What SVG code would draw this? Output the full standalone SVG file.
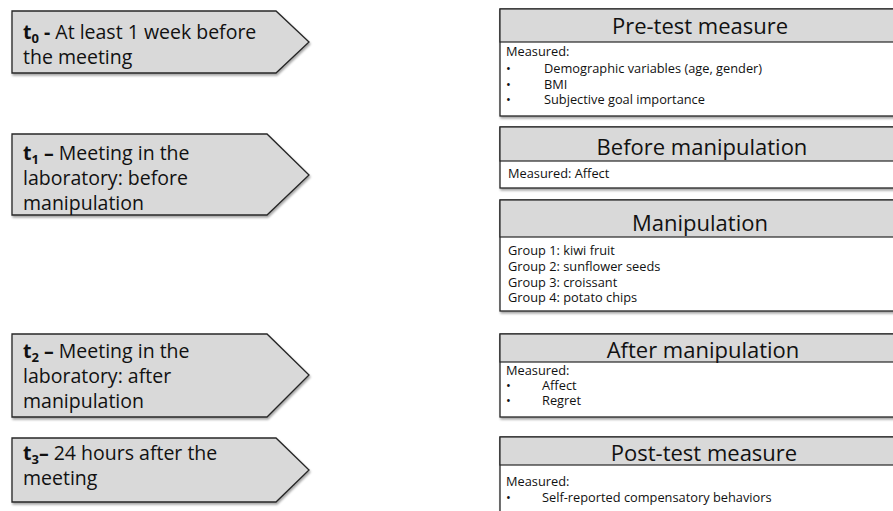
<svg xmlns="http://www.w3.org/2000/svg" width="893" height="511" viewBox="0 0 893 511">
  <style>
    .chev { fill: #d9d9d9; stroke: #262626; stroke-width: 1.3; filter: url(#shadow); }
    .hdr { fill: #d9d9d9; stroke: #262626; stroke-width: 1.2; }
    .body { fill: #ffffff; stroke: #262626; stroke-width: 1.3; filter: url(#shadow); }
    .lt { font-family: "Open Sans", "Liberation Sans", sans-serif; font-size: 19.5px; fill: #111; }
    .lt .b { font-weight: bold; }
    .lt .sub { font-weight: bold; font-size: 13px; }
    .ttl { font-family: "Open Sans", "Liberation Sans", sans-serif; font-size: 22px; fill: #111; text-anchor: middle; }
    .bt { font-family: "Open Sans", "Liberation Sans", sans-serif; font-size: 12.8px; fill: #111; }
  </style>
  <defs>
    <filter id="shadow" x="-5%" y="-10%" width="115%" height="130%">
      <feDropShadow dx="1" dy="2" stdDeviation="1" flood-color="#000" flood-opacity="0.35"/>
    </filter>
  </defs>
  <rect width="893" height="511" fill="#ffffff"/>

  <!-- time points (chevrons) -->
  <g id="t0">
    <path class="chev" d="M12,11 H276 L309,42 L276,73 H12 Z"/>
    <text class="lt" x="23" y="39"><tspan class="b">t</tspan><tspan class="sub" dy="4">0</tspan><tspan class="b" dy="-4"> -</tspan> At least 1 week before<tspan x="23" dy="25">the meeting</tspan></text>
  </g>
  <g id="t1">
    <path class="chev" d="M12,134 H267 L309,175 L267,215 H12 Z"/>
    <text class="lt" x="23" y="160"><tspan class="b">t</tspan><tspan class="sub" dy="4">1</tspan><tspan class="b" dy="-4"> –</tspan> Meeting in the<tspan x="23" dy="25">laboratory: before</tspan><tspan x="23" dy="25">manipulation</tspan></text>
  </g>
  <g id="t2">
    <path class="chev" d="M12,334 H267 L309,375 L267,417 H12 Z"/>
    <text class="lt" x="23" y="358"><tspan class="b">t</tspan><tspan class="sub" dy="4">2</tspan><tspan class="b" dy="-4"> –</tspan> Meeting in the<tspan x="23" dy="25">laboratory: after</tspan><tspan x="23" dy="25">manipulation</tspan></text>
  </g>
  <g id="t3">
    <path class="chev" d="M12,438 H276 L309,470 L276,502 H12 Z"/>
    <text class="lt" x="23" y="460"><tspan class="b">t</tspan><tspan class="sub" dy="4">3</tspan><tspan class="b" dy="-4">–</tspan> 24 hours after the<tspan x="23" dy="25">meeting</tspan></text>
  </g>

  <!-- measurement boxes -->
  <g id="pretest">
    <rect class="body" x="500" y="9" width="400" height="107"/>
    <rect class="hdr" x="500" y="9" width="400" height="33"/>
    <text class="ttl" x="700" y="34">Pre-test measure</text>
    <text class="bt" x="506" y="56">Measured:</text>
    <text class="bt" y="73"><tspan x="506">•</tspan><tspan x="544">Demographic variables (age, gender)</tspan></text>
    <text class="bt" y="89"><tspan x="506">•</tspan><tspan x="544">BMI</tspan></text>
    <text class="bt" y="104"><tspan x="506">•</tspan><tspan x="544">Subjective goal importance</tspan></text>
  </g>
  <g id="before">
    <rect class="body" x="500" y="127" width="400" height="61"/>
    <rect class="hdr" x="500" y="127" width="400" height="34"/>
    <text class="ttl" x="702" y="155">Before manipulation</text>
    <text class="bt" x="508" y="178">Measured: Affect</text>
  </g>
  <g id="manipulation">
    <rect class="body" x="500" y="200" width="400" height="111"/>
    <rect class="hdr" x="500" y="200" width="400" height="37"/>
    <text class="ttl" x="700" y="231">Manipulation</text>
    <text class="bt" x="508" y="255">Group 1: kiwi fruit</text>
    <text class="bt" x="508" y="271">Group 2: sunflower seeds</text>
    <text class="bt" x="508" y="287">Group 3: croissant</text>
    <text class="bt" x="508" y="302">Group 4: potato chips</text>
  </g>
  <g id="after">
    <rect class="body" x="500" y="334" width="400" height="83"/>
    <rect class="hdr" x="500" y="334" width="400" height="28"/>
    <text class="ttl" x="703" y="358">After manipulation</text>
    <text class="bt" x="506" y="375">Measured:</text>
    <text class="bt" y="390"><tspan x="506">•</tspan><tspan x="542">Affect</tspan></text>
    <text class="bt" y="405"><tspan x="506">•</tspan><tspan x="542">Regret</tspan></text>
  </g>
  <g id="posttest">
    <rect class="body" x="500" y="437" width="400" height="90"/>
    <rect class="hdr" x="500" y="437" width="400" height="28"/>
    <text class="ttl" x="704" y="461">Post-test measure</text>
    <text class="bt" x="506" y="486">Measured:</text>
    <text class="bt" y="502"><tspan x="506">•</tspan><tspan x="542">Self-reported compensatory behaviors</tspan></text>
  </g>

  <!-- no connectors between steps -->
  <g id="connectors"/>
</svg>
